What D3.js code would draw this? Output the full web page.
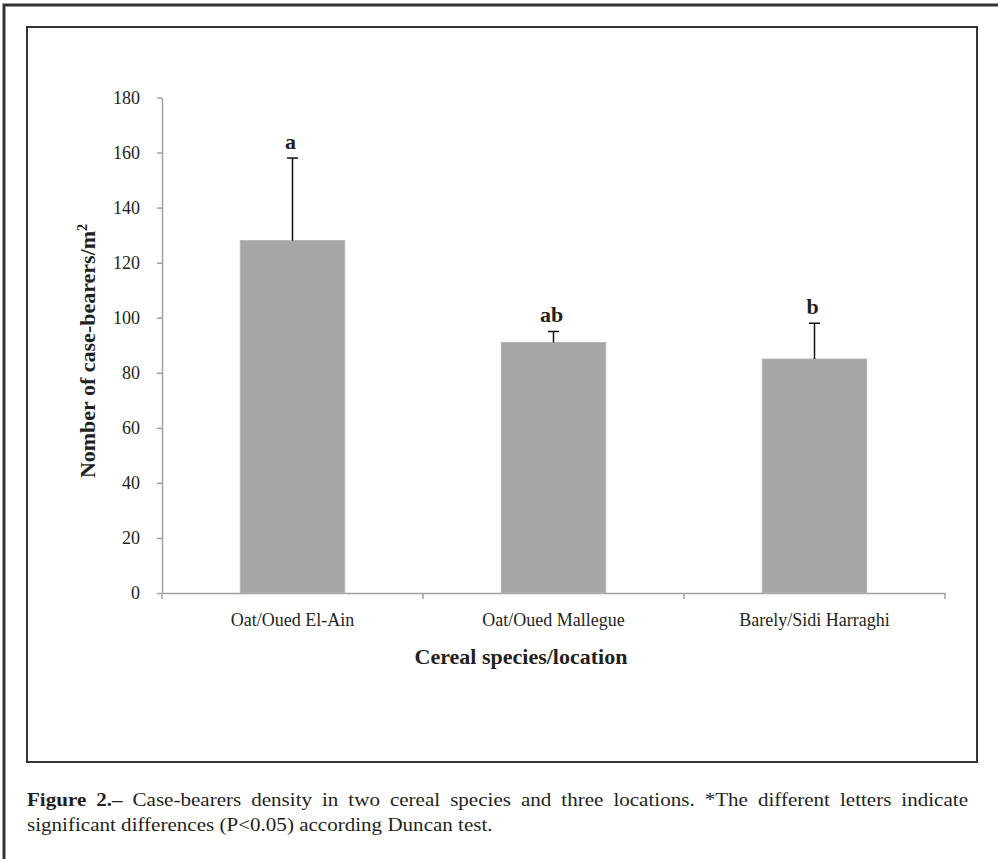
<!DOCTYPE html>
<html>
<head>
<meta charset="utf-8">
<script src="https://cdn.jsdelivr.net/npm/d3@7"></script>
<style>
  body { margin: 0; background: #fff; }
  svg { display: block; font-family: "Liberation Serif", "Times New Roman", serif; }
</style>
</head>
<body>
<svg id="chart" width="998" height="859"></svg>
<script>
// chart data
const categories = ["Oat/Oued El-Ain", "Oat/Oued Mallegue", "Barely/Sidi Harraghi"];
const means = [128, 91, 85];
const errors = [30, 4, 13];
const letters = ["a", "ab", "b"];
const yTicks = [0, 20, 40, 60, 80, 100, 120, 140, 160, 180];

const svg = d3.select("#chart");
const ink = "#231f20";
const axisGrey = "#a0a0a0";

// frames
svg.append("rect")
  .attr("x", 4).attr("y", 5).attr("width", 1100).attr("height", 1000)
  .attr("fill", "none").attr("stroke", "#333").attr("stroke-width", 3);
svg.append("rect")
  .attr("x", 27).attr("y", 27).attr("width", 950).attr("height", 735)
  .attr("fill", "none").attr("stroke", "#333").attr("stroke-width", 2);

// scales
const x = d3.scaleBand()
  .domain(categories)
  .range([162, 945])
  .paddingInner(0.6)
  .paddingOuter(0.3);

const y = d3.scaleLinear()
  .domain([0, 180])
  .range([593, 97.5]);

// y axis
const gy = svg.append("g")
  .attr("transform", "translate(162,0)")
  .call(d3.axisLeft(y).tickValues(yTicks).tickSize(5).tickSizeOuter(0).tickPadding(17));
gy.select(".domain").attr("stroke", axisGrey).attr("stroke-width", 1.5);
gy.selectAll(".tick line").attr("stroke", axisGrey).attr("stroke-width", 1.5);
gy.selectAll(".tick text")
  .attr("font-family", "Liberation Serif").attr("font-size", 18).attr("fill", ink);

// x axis (labels at band centres, ticks at band boundaries)
const gx = svg.append("g")
  .attr("transform", "translate(0,593)")
  .call(d3.axisBottom(x).tickSize(0).tickSizeOuter(0));
gx.select(".domain").attr("stroke", axisGrey).attr("stroke-width", 1.5);
gx.selectAll(".tick text")
  .attr("y", 33).attr("dy", 0)
  .attr("font-family", "Liberation Serif").attr("font-size", 18).attr("fill", ink);

const bounds = d3.range(categories.length + 1).map(i => x.range()[0] + i * x.step());
gx.selectAll(".bound")
  .data(bounds)
  .join("line")
  .attr("class", "bound")
  .attr("x1", d => d).attr("x2", d => d)
  .attr("y1", 0).attr("y2", 6)
  .attr("stroke", axisGrey).attr("stroke-width", 1.5);

// bars
svg.append("g")
  .selectAll("rect")
  .data(means)
  .join("rect")
  .attr("x", (d, i) => x(categories[i]))
  .attr("y", d => y(d))
  .attr("width", x.bandwidth())
  .attr("height", d => y(0) - y(d))
  .attr("fill", "#a6a6a6")
  .attr("stroke", "#b4b4b4")
  .attr("stroke-width", 1);

// error bars (upper only)
const eb = svg.append("g")
  .selectAll("g")
  .data(means)
  .join("g");
eb.append("line")
  .attr("x1", (d, i) => x(categories[i]) + x.bandwidth() / 2)
  .attr("x2", (d, i) => x(categories[i]) + x.bandwidth() / 2)
  .attr("y1", d => y(d))
  .attr("y2", (d, i) => y(d + errors[i]))
  .attr("stroke", "#111").attr("stroke-width", 1.5);
eb.append("line")
  .attr("x1", (d, i) => x(categories[i]) + x.bandwidth() / 2 - 5.5)
  .attr("x2", (d, i) => x(categories[i]) + x.bandwidth() / 2 + 5.5)
  .attr("y1", (d, i) => y(d + errors[i]))
  .attr("y2", (d, i) => y(d + errors[i]))
  .attr("stroke", "#111").attr("stroke-width", 1.5);

// significance letters
svg.append("g")
  .selectAll("text")
  .data(means)
  .join("text")
  .attr("x", (d, i) => x(categories[i]) + x.bandwidth() / 2 - 2)
  .attr("y", (d, i) => y(d + errors[i]) - 9)
  .attr("text-anchor", "middle")
  .attr("font-size", 22).attr("font-weight", "bold").attr("fill", ink)
  .text((d, i) => letters[i]);

// axis titles
svg.append("text")
  .attr("x", 521).attr("y", 664)
  .attr("text-anchor", "middle")
  .attr("font-size", 22).attr("font-weight", "bold").attr("fill", ink)
  .text("Cereal species/location");

const yTitle = svg.append("text")
  .attr("transform", "translate(95,351) rotate(-90)")
  .attr("text-anchor", "middle")
  .attr("font-size", 22).attr("font-weight", "bold").attr("fill", ink);
yTitle.append("tspan").text("Nomber of case-bearers/m");
yTitle.append("tspan").attr("dy", -8).attr("font-size", 14).text("2");

// caption (slightly wide type), first line justified word by word
const line1 = [
  { t: "Figure", b: true }, { t: "2.–", b: true },
  { t: "Case-bearers" }, { t: "density" }, { t: "in" }, { t: "two" }, { t: "cereal" },
  { t: "species" }, { t: "and" }, { t: "three" }, { t: "locations." }, { t: "*The" },
  { t: "different" }, { t: "letters" }, { t: "indicate" }
];
const stretch = 1.17;
const cap = svg.append("g")
  .attr("transform", `translate(27,0) scale(${stretch},1)`)
  .attr("fill", ink).attr("font-size", 18);
const words = cap.selectAll("text.w")
  .data(line1)
  .join("text")
  .attr("class", "w")
  .attr("y", 806)
  .attr("font-weight", d => d.b ? "bold" : "normal")
  .text(d => d.t);
const widths = words.nodes().map(n => n.getComputedTextLength());
const span = (968 - 27) / stretch;
const gap = (span - d3.sum(widths)) / (widths.length - 1);
let cx = 0;
words.attr("x", (d, i) => { const p = cx; cx += widths[i] + gap; return p; });

cap.append("text")
  .attr("x", 0).attr("y", 831)
  .text("significant differences (P<0.05) according Duncan test.");
</script>
</body>
</html>
